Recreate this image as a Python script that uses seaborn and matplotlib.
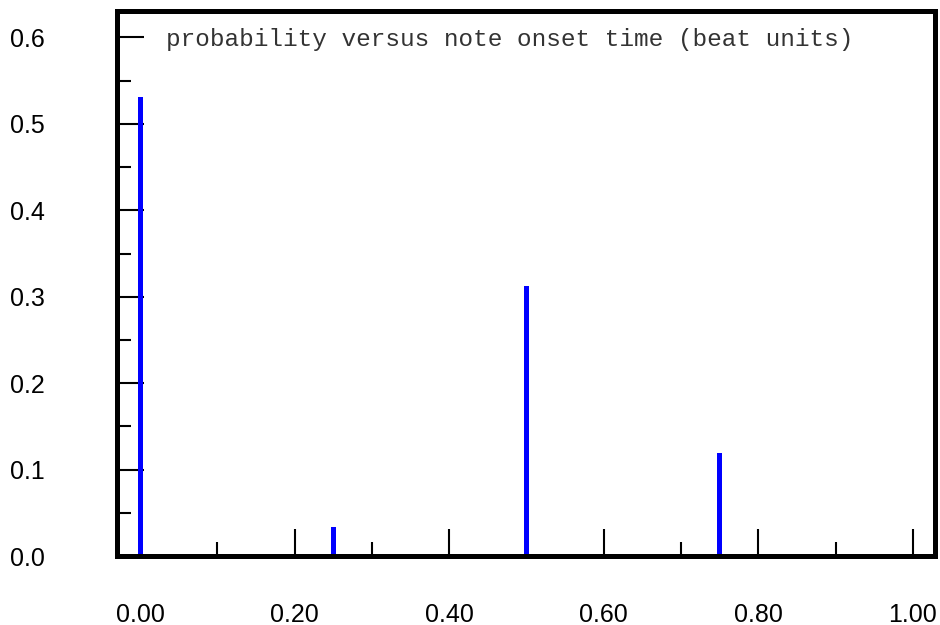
import matplotlib
matplotlib.use("Agg")
import matplotlib.pyplot as plt
import matplotlib.transforms as mtransforms
from matplotlib.ticker import MultipleLocator, FormatStrFormatter
import seaborn as sns
import pandas as pd

# data
onsets = [0.0, 1/24, 3/24, 0.25, 9/24, 0.5, 13/24, 15/24, 0.75, 19/24, 21/24, 23/24]
probs = [0.531, 0.002, 0.002, 0.033, 0.002, 0.3125, 0.002, 0.002, 0.119, 0.002, 0.002, 0.002]
title_text = "probability versus note onset time (beat units)"

sns.set_style("white")
plt.rcParams['font.family'] = ['Liberation Sans', 'DejaVu Sans']
plt.rcParams['text.color'] = 'black'
plt.rcParams['xtick.labelcolor'] = 'black'
plt.rcParams['ytick.labelcolor'] = 'black'

df = pd.DataFrame({"onset": onsets, "prob": probs})

fig = plt.figure(figsize=(9.4, 6.25), dpi=100)
ax = fig.add_axes([117/940, 1 - 556/625, (935-117)/940, (556-11)/625])

sns.barplot(data=df, x="onset", y="prob", native_scale=True, width=0.155,
            color="#0000ff", saturation=1, linewidth=0, errorbar=None, ax=ax)

ax.set_xlim(-0.0298, 1.0285)
ax.set_ylim(0, 0.6306)
ax.set_xlabel("")
ax.set_ylabel("")

ax.xaxis.set_major_locator(MultipleLocator(0.2))
ax.xaxis.set_minor_locator(MultipleLocator(0.1))
ax.yaxis.set_major_locator(MultipleLocator(0.1))
ax.yaxis.set_minor_locator(MultipleLocator(0.05))
ax.xaxis.set_major_formatter(FormatStrFormatter("%.2f"))
ax.yaxis.set_major_formatter(FormatStrFormatter("%.1f"))

for s in ax.spines.values():
    s.set_visible(True)
    s.set_linewidth(3.6)
    s.set_color("black")

ax.tick_params(axis="x", which="major", direction="in", length=19.5, width=1.5,
               color="black", labelcolor="black", pad=33.5, labelsize=18, bottom=True, top=False)
ax.tick_params(axis="x", which="minor", direction="in", length=10, width=1.5,
               color="black", bottom=True, top=False)
ax.tick_params(axis="y", which="major", direction="in", length=19.5, width=1.5,
               color="black", labelcolor="black", pad=52, labelsize=18, left=True, right=False)
ax.tick_params(axis="y", which="minor", direction="in", length=10, width=1.5,
               color="black", left=True, right=False)

trans = mtransforms.blended_transform_factory(ax.transAxes, ax.transData)
ax.text((166-117)/818, 0.598, title_text, transform=trans,
        fontsize=17.6, family=["Liberation Mono", "DejaVu Sans Mono"], va="center", ha="left",
        color="#333333")

fig.savefig("out.png", dpi=100)
